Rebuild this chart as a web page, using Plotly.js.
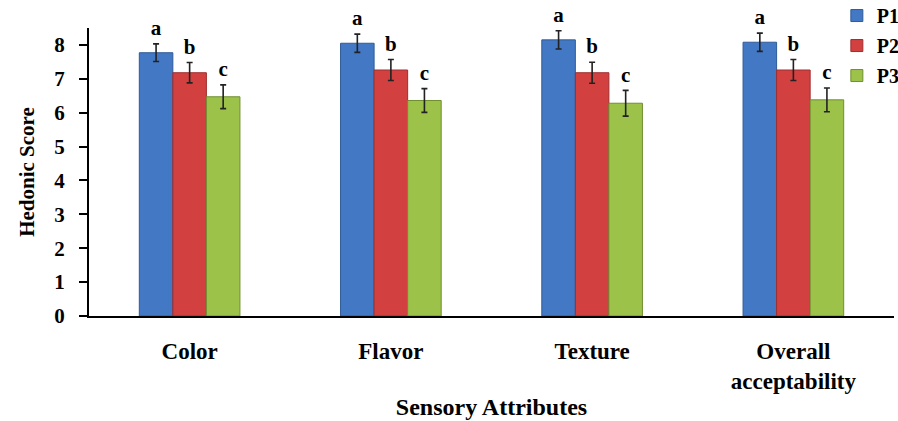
<!DOCTYPE html>
<html>
<head>
<meta charset="utf-8">
<script src="https://cdn.plot.ly/plotly-3.0.1.min.js"></script>
<style>html,body{margin:0;padding:0;background:#fff;}#chart{width:898px;height:421px;}</style>
</head>
<body>
<div id="chart"></div>
<script>
var categories = ["Color", "Flavor", "Texture", "Overall<br>acceptability"];
var seriesNames = ["P1", "P2", "P3"];
var p1 = [7.77, 8.05, 8.15, 8.08];
var p2 = [7.18, 7.26, 7.18, 7.26];
var p3 = [6.47, 6.36, 6.28, 6.38];
var p1Err = [0.26, 0.27, 0.27, 0.27];
var p2Err = [0.30, 0.31, 0.31, 0.31];
var p3Err = [0.35, 0.35, 0.38, 0.35];
var p1Letters = ["a", "a", "a", "a"];
var p2Letters = ["b", "b", "b", "b"];
var p3Letters = ["c", "c", "c", "c"];
var colors = ["#4378c4", "#d24040", "#9cc24a"];
var lineColors = ["#2f5b96", "#9e2e2e", "#6f8f30"];

var values = [p1, p2, p3];
var errs = [p1Err, p2Err, p3Err];
var letters = [p1Letters, p2Letters, p3Letters];
var font = "Liberation Serif";

var traces = [];
for (var i = 0; i < 3; i++) {
  traces.push({
    type: "bar", name: seriesNames[i], x: categories, y: values[i],
    legendgroup: seriesNames[i],
    marker: {color: colors[i], line: {color: lineColors[i], width: 1}},
    error_y: {type: "data", array: errs[i], visible: true, color: "#222", thickness: 1.6, width: 3}
  });
}
for (var i = 0; i < 3; i++) {
  traces.push({
    type: "scatter", mode: "markers+text", x: categories,
    y: values[i].map(function (v, k) { return v + errs[i][k]; }),
    text: letters[i], textposition: "top center",
    marker: {size: 4, color: "rgba(0,0,0,0)"},
    textfont: {family: font, size: 21, color: "#000", weight: "bold"},
    showlegend: false, hoverinfo: "skip", cliponaxis: false
  });
}

var layout = {
  width: 898, height: 421,
  margin: {l: 89, r: 4, t: 28, b: 105, autoexpand: false},
  paper_bgcolor: "#fff", plot_bgcolor: "#fff",
  barmode: "group", bargap: 0.5, bargroupgap: 0,
  scattermode: "group", scattergap: 0.5,
  font: {family: font, color: "#000"},
  showlegend: true,
  legend: {x: 0.929, y: 1.111, xanchor: "left", yanchor: "top",
    font: {family: font, size: 20, color: "#000", weight: "bold"},
    traceorder: "grouped", tracegroupgap: 1, bgcolor: "rgba(0,0,0,0)", itemwidth: 30},
  xaxis: {
    showline: true, linecolor: "#000", linewidth: 2, ticks: "", showgrid: false, zeroline: false,
    range: [-0.5, 3.5], ticklabelstandoff: 13, automargin: false,
    tickfont: {family: font, size: 23, color: "#000", weight: "bold"},
    title: {text: "Sensory Attributes", font: {family: font, size: 24, color: "#000", weight: "bold"}, standoff: 6}
  },
  yaxis: {
    range: [0, 8.5], tickvals: [0, 1, 2, 3, 4, 5, 6, 7, 8], automargin: false,
    showline: true, linecolor: "#000", linewidth: 2, ticks: "outside", ticklen: 8, tickwidth: 2, tickcolor: "#000",
    showgrid: false, zeroline: false, ticklabelstandoff: 10,
    tickfont: {family: font, size: 21, color: "#000", weight: "bold"},
    title: {text: "Hedonic Score", font: {family: font, size: 21, color: "#000", weight: "bold"}, standoff: 14}
  }
};

Plotly.newPlot("chart", traces, layout, {displayModeBar: false, staticPlot: true});
</script>
</body>
</html>
